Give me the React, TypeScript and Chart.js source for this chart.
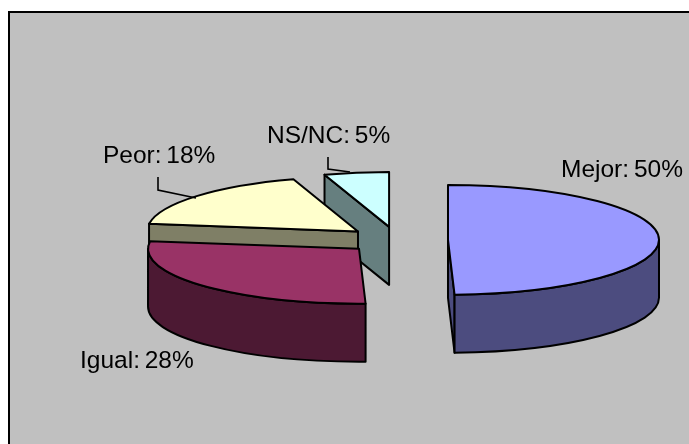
import React, { useEffect, useRef } from "react";
import { Chart, registerables } from "chart.js";

Chart.register(...registerables);

const categories = ["Mejor", "Igual", "Peor", "NS/NC"];
const shares = [50, 28, 18, 5];
const topColors = ["#9999FF", "#993366", "#FFFFCC", "#CCFFFF"];
const sideColors = ["#4C4C7F", "#4C1933", "#7F7F66", "#667F7F"];
const labelAnchors = [
  [561, 177],
  [80, 368],
  [103, 163],
  [267, 143],
];
const leaderLines = [
  null,
  null,
  [[158, 177], [158, 190], [196, 198]],
  [[328, 157], [328, 169], [350, 172]],
];

const TILT = 0.26;
const DEPTH = 58;
const RADIUS = 211;
const EXPLODE = 51;

const pie3d = {
  id: "pie3d",
  beforeDraw(chart: any) {
    const { ctx, width, height } = chart;
    ctx.save();
    ctx.fillStyle = "#FFFFFF";
    ctx.fillRect(0, 0, width, height);
    ctx.fillStyle = "#C0C0C0";
    ctx.fillRect(8, 11, width - 8, height - 11);
    ctx.strokeStyle = "#000000";
    ctx.lineWidth = 2;
    ctx.beginPath();
    ctx.moveTo(9, height);
    ctx.lineTo(9, 12);
    ctx.lineTo(width, 12);
    ctx.stroke();
    ctx.restore();
  },
  beforeDatasetDraw(chart: any, args: any) {
    const { ctx } = chart;
    const arcs = args.meta.data;
    ctx.save();
    ctx.strokeStyle = "#000000";
    ctx.lineWidth = 2;
    ctx.lineJoin = "round";
    for (let i = arcs.length - 1; i >= 0; i--) {
      const arc = arcs[i];
      const a1 = arc.startAngle;
      const a2 = arc.endAngle;
      const mid = (a1 + a2) / 2;
      const off = arc.options.offset;
      const R = arc.outerRadius;
      const cx = arc.x + Math.cos(mid) * off;
      const cy = arc.y + Math.sin(mid) * off * TILT;
      const pt = (a: number) => [cx + R * Math.cos(a), cy + R * TILT * Math.sin(a)];

      const face = (a: number) => {
        const [x, y] = pt(a);
        ctx.beginPath();
        ctx.moveTo(cx, cy);
        ctx.lineTo(x, y);
        ctx.lineTo(x, y + DEPTH);
        ctx.lineTo(cx, cy + DEPTH);
        ctx.closePath();
        ctx.fillStyle = sideColors[i];
        ctx.fill();
        ctx.stroke();
      };
      if (Math.cos(a1) < -1e-6) face(a1);
      if (Math.cos(a2) > 1e-6) face(a2);

      const w1 = Math.max(a1, 0);
      const w2 = Math.min(a2, Math.PI);
      if (w2 > w1) {
        ctx.beginPath();
        ctx.ellipse(cx, cy, R, R * TILT, 0, w1, w2);
        ctx.ellipse(cx, cy + DEPTH, R, R * TILT, 0, w2, w1, true);
        ctx.closePath();
        ctx.fillStyle = sideColors[i];
        ctx.fill();
        ctx.stroke();
      }

      ctx.beginPath();
      ctx.moveTo(cx, cy);
      ctx.ellipse(cx, cy, R, R * TILT, 0, a1, a2);
      ctx.closePath();
      ctx.fillStyle = topColors[i];
      ctx.fill();
      ctx.stroke();
    }
    ctx.restore();
    return false;
  },
  afterDatasetsDraw(chart: any) {
    const { ctx } = chart;
    ctx.save();
    ctx.strokeStyle = "#000000";
    ctx.lineWidth = 1.6;
    leaderLines.forEach((line) => {
      if (!line) return;
      ctx.beginPath();
      line.forEach(([x, y], k) => (k ? ctx.lineTo(x, y) : ctx.moveTo(x, y)));
      ctx.stroke();
    });
    ctx.fillStyle = "#000000";
    ctx.font = '24.5px "Liberation Sans", Arial, sans-serif';
    ctx.wordSpacing = "-2px";
    ctx.textBaseline = "alphabetic";
    ctx.textAlign = "left";
    categories.forEach((name, i) => {
      const [x, y] = labelAnchors[i];
      ctx.fillText(`${name}: ${shares[i]}%`, x, y);
    });
    ctx.restore();
  },
};

export default function App() {
  const ref = useRef<HTMLCanvasElement>(null);
  useEffect(() => {
    const chart = new Chart(ref.current!, {
      type: "pie",
      data: {
        labels: categories,
        datasets: [{ data: shares, backgroundColor: topColors, offset: EXPLODE, borderColor: "#000000" }],
      },
      options: {
        animation: false,
        responsive: false,
        events: [],
        radius: RADIUS,
        layout: { padding: { left: 105, top: 36, right: 0, bottom: 0 } },
        plugins: { legend: { display: false }, tooltip: { enabled: false } },
      },
      plugins: [pie3d],
    } as any);
    return () => chart.destroy();
  }, []);
  return (
    <canvas
      ref={ref}
      width={689}
      height={444}
      style={{ position: "absolute", left: 0, top: 0, display: "block" }}
    />
  );
}
